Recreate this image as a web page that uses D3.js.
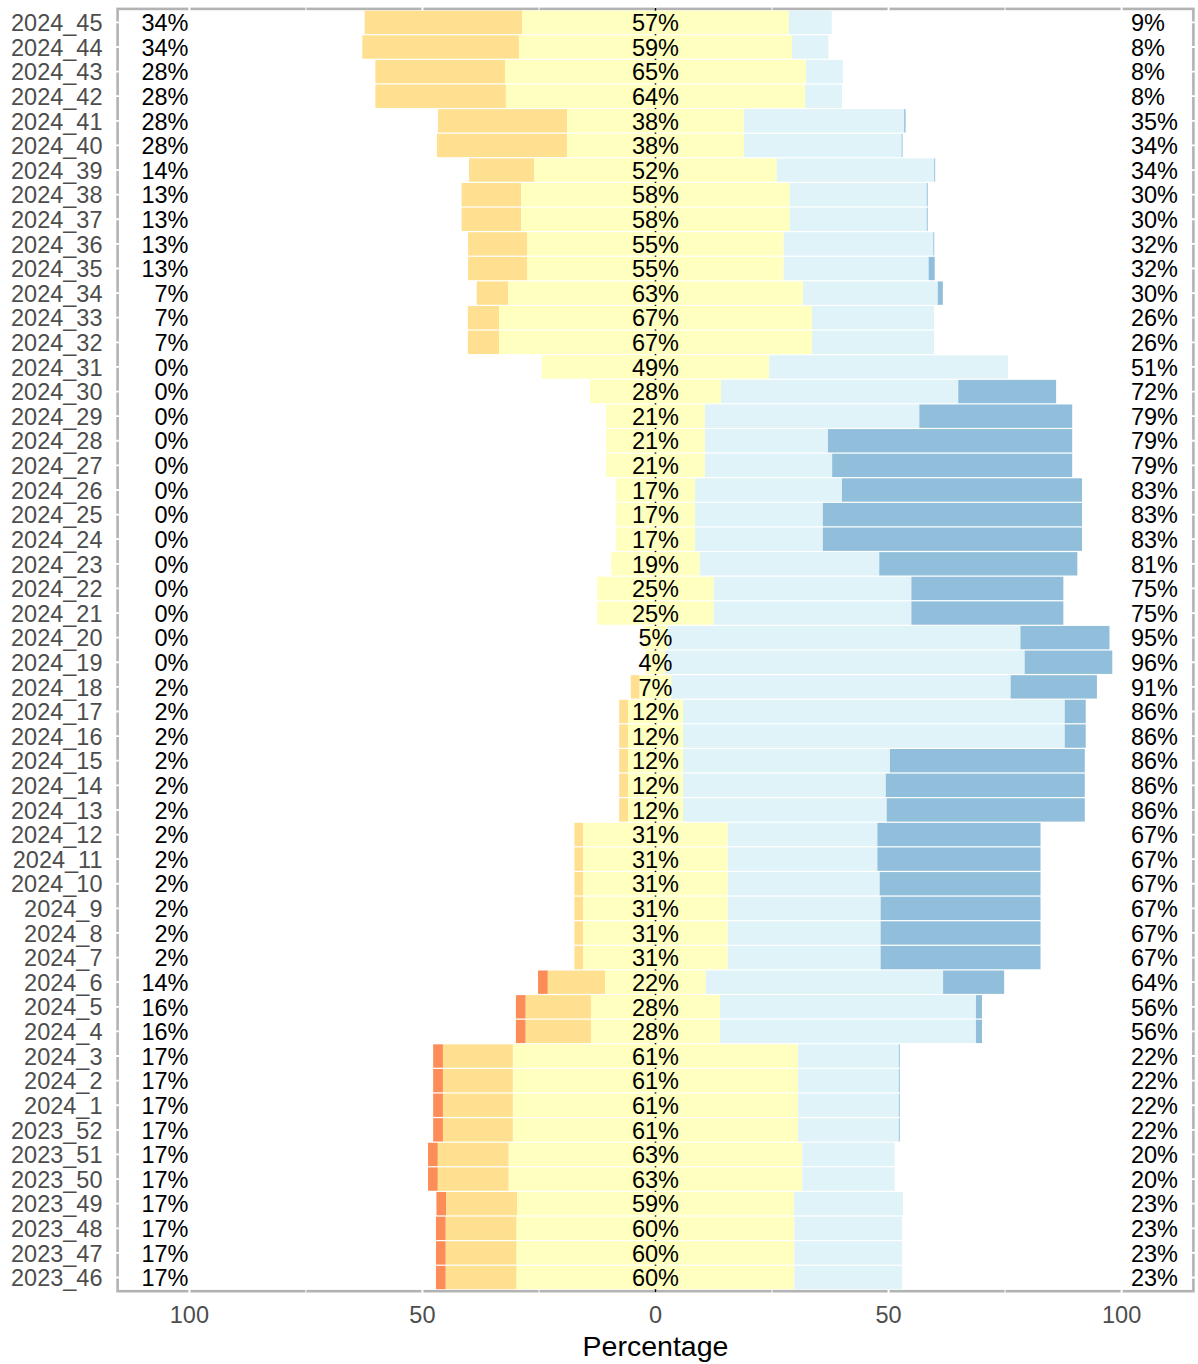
<!DOCTYPE html>
<html>
<head>
<meta charset="utf-8">
<style>
  body { margin: 0; background: #fff; }
  text { font-family: "Liberation Sans", Arial, sans-serif; }
</style>
</head>
<body>
<div id="chart"></div>
<script src="https://cdn.jsdelivr.net/npm/d3@7"></script>
<script>
// rows, top to bottom
const weeks = [
  '2024_45', '2024_44', '2024_43', '2024_42', '2024_41', '2024_40', '2024_39', '2024_38',
  '2024_37', '2024_36', '2024_35', '2024_34', '2024_33', '2024_32', '2024_31', '2024_30',
  '2024_29', '2024_28', '2024_27', '2024_26', '2024_25', '2024_24', '2024_23', '2024_22',
  '2024_21', '2024_20', '2024_19', '2024_18', '2024_17', '2024_16', '2024_15', '2024_14',
  '2024_13', '2024_12', '2024_11', '2024_10', '2024_9', '2024_8', '2024_7', '2024_6',
  '2024_5', '2024_4', '2024_3', '2024_2', '2024_1', '2023_52', '2023_51', '2023_50',
  '2023_49', '2023_48', '2023_47', '2023_46',
];

// percentages per answer level
const low2 = [
  0, 0, 0, 0, 0, 0, 0, 0, 0, 0, 0, 0, 0, 0, 0, 0,
  0, 0, 0, 0, 0, 0, 0, 0, 0, 0, 0, 0, 0, 0, 0, 0,
  0, 0, 0, 0, 0, 0, 0, 2.1, 2.1, 2.1, 2.1, 2.1, 2.1, 2.1, 2.1, 2.1,
  2.1, 2.1, 2.1, 2.1,
];
const low1 = [
  33.8, 33.6, 27.8, 28.0, 27.7, 27.9, 14.0, 12.8, 12.8, 12.7, 12.7, 6.7, 6.7, 6.7, 0, 0,
  0, 0, 0, 0, 0, 0, 0, 0, 0, 0, 0, 1.9, 1.9, 1.9, 1.9, 1.9,
  1.9, 1.9, 1.9, 1.9, 1.9, 1.9, 1.9, 12.3, 14.0, 14.0, 15.0, 15.0, 15.0, 15.0, 15.2, 15.2,
  15.2, 15.2, 15.2, 15.2,
];
const neutral = [
  57.2, 58.6, 64.6, 64.2, 37.9, 38.0, 52.0, 57.6, 57.6, 55.0, 55.0, 63.3, 67.1, 67.1, 48.8, 28.1,
  21.2, 21.2, 21.2, 17.0, 17.0, 17.0, 19.0, 25.0, 25.0, 5.2, 4.2, 6.8, 11.8, 11.8, 11.8, 11.8,
  11.8, 31.0, 31.0, 31.0, 31.0, 31.0, 31.0, 21.6, 27.7, 27.7, 61.2, 61.2, 61.2, 61.2, 63.0, 63.0,
  59.4, 59.6, 59.6, 59.6,
];
const high1 = [
  9.2, 7.8, 7.9, 7.9, 34.4, 33.8, 33.8, 29.4, 29.4, 32.1, 31.1, 28.9, 26.2, 26.2, 51.2, 50.9,
  46.0, 26.4, 27.3, 31.5, 27.4, 27.4, 38.5, 42.4, 42.4, 75.7, 77.1, 72.8, 81.9, 81.9, 44.4, 43.5,
  43.7, 32.1, 32.1, 32.6, 32.8, 32.8, 32.8, 50.9, 54.9, 54.9, 21.6, 21.6, 21.6, 21.6, 19.8, 19.8,
  23.4, 23.1, 23.1, 23.1,
];
const high2 = [
  0, 0, 0, 0, 0.3, 0.2, 0.2, 0.2, 0.2, 0.2, 1.3, 1.1, 0, 0, 0, 21.0,
  32.8, 52.4, 51.5, 51.5, 55.6, 55.6, 42.5, 32.6, 32.6, 19.1, 18.8, 18.5, 4.5, 4.5, 41.8, 42.7,
  42.5, 35.0, 35.0, 34.5, 34.3, 34.3, 34.3, 13.1, 1.3, 1.3, 0.2, 0.2, 0.2, 0.2, 0, 0,
  0, 0, 0, 0,
];

const xTicks = [-100, -50, 0, 50, 100];
const xMinorTicks = [-75, -25, 25, 75];

const colors = {
  low2: '#fc8d59',
  low1: '#fee090',
  neutral: '#ffffbf',
  high1: '#e0f3f8',
  high2: '#91bfdb',
};

const width = 1198;
const height = 1364;
const panel = { left: 117.6, right: 1193.4, top: 8.9, bottom: 1291.2 };

const x = d3.scaleLinear()
  .domain([-115.4, 115.4])
  .range([panel.left, panel.right]);

const y = d3.scaleBand()
  .domain(weeks)
  .range([10.7, 1289.2])
  .paddingInner(0.05);

const center = d => y(d) + y.bandwidth() / 2;

const rows = weeks.map((week, i) => {
  const half = neutral[i] / 2;
  const segments = [
    { key: 'low2', x0: -(half + low1[i] + low2[i]), x1: -(half + low1[i]) },
    { key: 'low1', x0: -(half + low1[i]), x1: -half },
    { key: 'neutral', x0: -half, x1: half },
    { key: 'high1', x0: half, x1: half + high1[i] },
    { key: 'high2', x0: half + high1[i], x1: half + high1[i] + high2[i] },
  ].filter(s => s.x1 - s.x0 > 0);
  return {
    week,
    segments,
    low: Math.round(low1[i] + low2[i]),
    mid: Math.round(neutral[i]),
    high: Math.round(high1[i] + high2[i]),
  };
});

const svg = d3.select('#chart')
  .append('svg')
    .attr('width', width)
    .attr('height', height)
    .attr('viewBox', `0 0 ${width} ${height}`);

// panel border
svg.append('rect')
  .attr('x', panel.left)
  .attr('y', panel.top)
  .attr('width', panel.right - panel.left)
  .attr('height', panel.bottom - panel.top)
  .attr('fill', 'none')
  .attr('stroke', '#b3b3b3')
  .attr('stroke-width', 2.6);

// white grid, only shows where it crosses the border
const grid = svg.append('g').attr('stroke', '#fff');
grid.selectAll('.hgrid')
  .data(weeks)
  .enter().append('line')
    .attr('x1', panel.left - 2)
    .attr('x2', panel.right + 2)
    .attr('y1', d => center(d))
    .attr('y2', d => center(d))
    .attr('stroke-width', 1.8);
grid.selectAll('.vgrid')
  .data(xTicks)
  .enter().append('line')
    .attr('x1', d => x(d))
    .attr('x2', d => x(d))
    .attr('y1', panel.top - 2)
    .attr('y2', panel.bottom + 2)
    .attr('stroke-width', 2);
grid.selectAll('.vminor')
  .data(xMinorTicks)
  .enter().append('line')
    .attr('x1', d => x(d))
    .attr('x2', d => x(d))
    .attr('y1', panel.top - 2)
    .attr('y2', panel.bottom + 2)
    .attr('stroke-width', 1);

// zero line
svg.append('line')
  .attr('x1', x(0))
  .attr('x2', x(0))
  .attr('y1', panel.top - 1)
  .attr('y2', panel.bottom + 1)
  .attr('stroke', '#000')
  .attr('stroke-width', 1.6);

const rowGroups = svg.selectAll('.row')
  .data(rows)
  .enter().append('g')
    .attr('class', 'row')
    .attr('transform', d => `translate(0, ${center(d.week)})`);

rowGroups.selectAll('rect')
  .data(d => d.segments)
  .enter().append('rect')
    .attr('x', d => x(d.x0))
    .attr('width', d => x(d.x1) - x(d.x0))
    .attr('y', -y.bandwidth() / 2)
    .attr('height', y.bandwidth())
    .attr('fill', d => colors[d.key]);

const fontSize = 23.5;

rowGroups.append('text')
  .attr('x', x(-100.2))
  .attr('dy', '0.37em')
  .attr('text-anchor', 'end')
  .attr('font-size', fontSize)
  .attr('fill', '#000')
  .text(d => `${d.low}%`);

rowGroups.append('text')
  .attr('x', x(0))
  .attr('dy', '0.37em')
  .attr('text-anchor', 'middle')
  .attr('font-size', fontSize)
  .attr('fill', '#000')
  .text(d => `${d.mid}%`);

rowGroups.append('text')
  .attr('x', x(102))
  .attr('dy', '0.37em')
  .attr('text-anchor', 'start')
  .attr('font-size', fontSize)
  .attr('fill', '#000')
  .text(d => `${d.high}%`);

// y axis labels
svg.selectAll('.ylabel')
  .data(weeks)
  .enter().append('text')
    .attr('x', 102.5)
    .attr('y', d => center(d))
    .attr('dy', '0.37em')
    .attr('text-anchor', 'end')
    .attr('font-size', fontSize)
    .attr('fill', '#4d4d4d')
    .text(d => d);

// x axis labels
svg.selectAll('.xlabel')
  .data(xTicks)
  .enter().append('text')
    .attr('x', d => x(d))
    .attr('y', 1323)
    .attr('text-anchor', 'middle')
    .attr('font-size', fontSize)
    .attr('fill', '#4d4d4d')
    .text(d => Math.abs(d));

svg.append('text')
  .attr('x', x(0))
  .attr('y', 1356)
  .attr('text-anchor', 'middle')
  .attr('font-size', 28.5)
  .attr('fill', '#000')
  .text('Percentage');
</script>
</body>
</html>
